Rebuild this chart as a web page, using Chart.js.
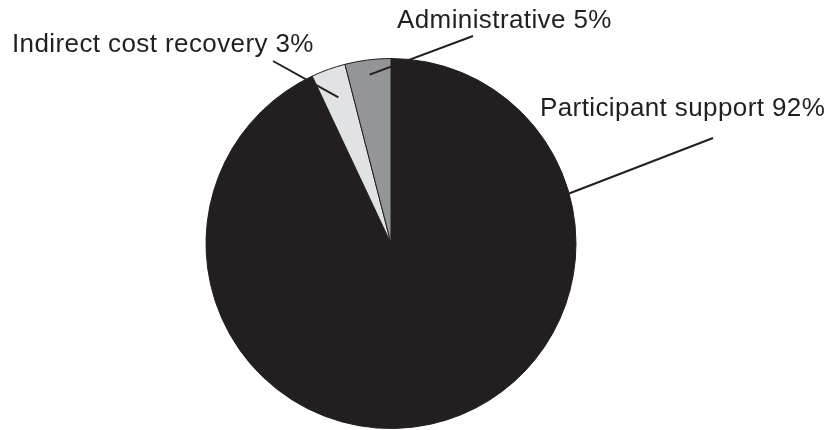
<!DOCTYPE html>
<html>
<head>
<meta charset="utf-8">
<script src="https://cdn.jsdelivr.net/npm/chart.js@4.4.1/dist/chart.umd.min.js"></script>
<style>
  html, body { margin: 0; padding: 0; background: #fff; }
  #wrap { width: 831px; height: 430px; }
</style>
</head>
<body>
<div id="wrap"><canvas id="budget"></canvas></div>
<script>
// slices, clockwise from 12 o'clock
const categories = ['Participant support', 'Indirect cost recovery', 'Administrative']
const shares = [93, 3, 4]
const shareLabels = ['92%', '3%', '5%']
const sliceColors = ['#231f20', '#e1e2e3', '#939598']

// where each callout sits: text box, end of leader line and the point on the slice it hits
const callouts = [
  { textX: 540, textY: 116, lineX: 713, lineY: 138, along: 0.222, depth: 1.0 },
  { textX: 12, textY: 52, lineX: 273, lineY: 61, along: 0.5, depth: 0.84 },
  { textX: 397, textY: 28, lineX: 473, lineY: 36, along: 0.5, depth: 0.92 }
]

const calloutPlugin = {
  id: 'callouts',
  afterDatasetsDraw(chart) {
    const ctx = chart.ctx
    const arcs = chart.getDatasetMeta(0).data
    ctx.save()
    ctx.strokeStyle = '#231f20'
    ctx.lineWidth = 2
    ctx.fillStyle = '#231f20'
    ctx.font = '26px "Liberation Sans", Arial, sans-serif'
    ctx.letterSpacing = '0.4px'
    ctx.textBaseline = 'alphabetic'
    ctx.textAlign = 'left'
    arcs.forEach((arc, i) => {
      const c = callouts[i]
      const { x, y, startAngle, endAngle, outerRadius } = arc.getProps(['x', 'y', 'startAngle', 'endAngle', 'outerRadius'], true)
      const a = startAngle + c.along * (endAngle - startAngle)
      const px = x + Math.cos(a) * outerRadius * c.depth
      const py = y + Math.sin(a) * outerRadius * c.depth
      ctx.beginPath()
      ctx.moveTo(c.lineX, c.lineY)
      ctx.lineTo(px, py)
      ctx.stroke()
      ctx.fillText(categories[i] + ' ' + shareLabels[i], c.textX, c.textY)
    })
    ctx.restore()
  }
}

new Chart(
  document.getElementById('budget'),
  {
    type: 'pie',
    plugins: [calloutPlugin],
    options: {
      responsive: true,
      maintainAspectRatio: false,
      animation: false,
      radius: 185,
      layout: {
        padding: { top: 58, bottom: 1, left: 0, right: 49 }
      },
      plugins: {
        legend: { display: false },
        tooltip: { enabled: false }
      }
    },
    data: {
      labels: categories,
      datasets: [
        {
          data: shares,
          backgroundColor: sliceColors,
          borderColor: '#231f20',
          borderWidth: 1
        }
      ]
    }
  }
);
</script>
</body>
</html>
